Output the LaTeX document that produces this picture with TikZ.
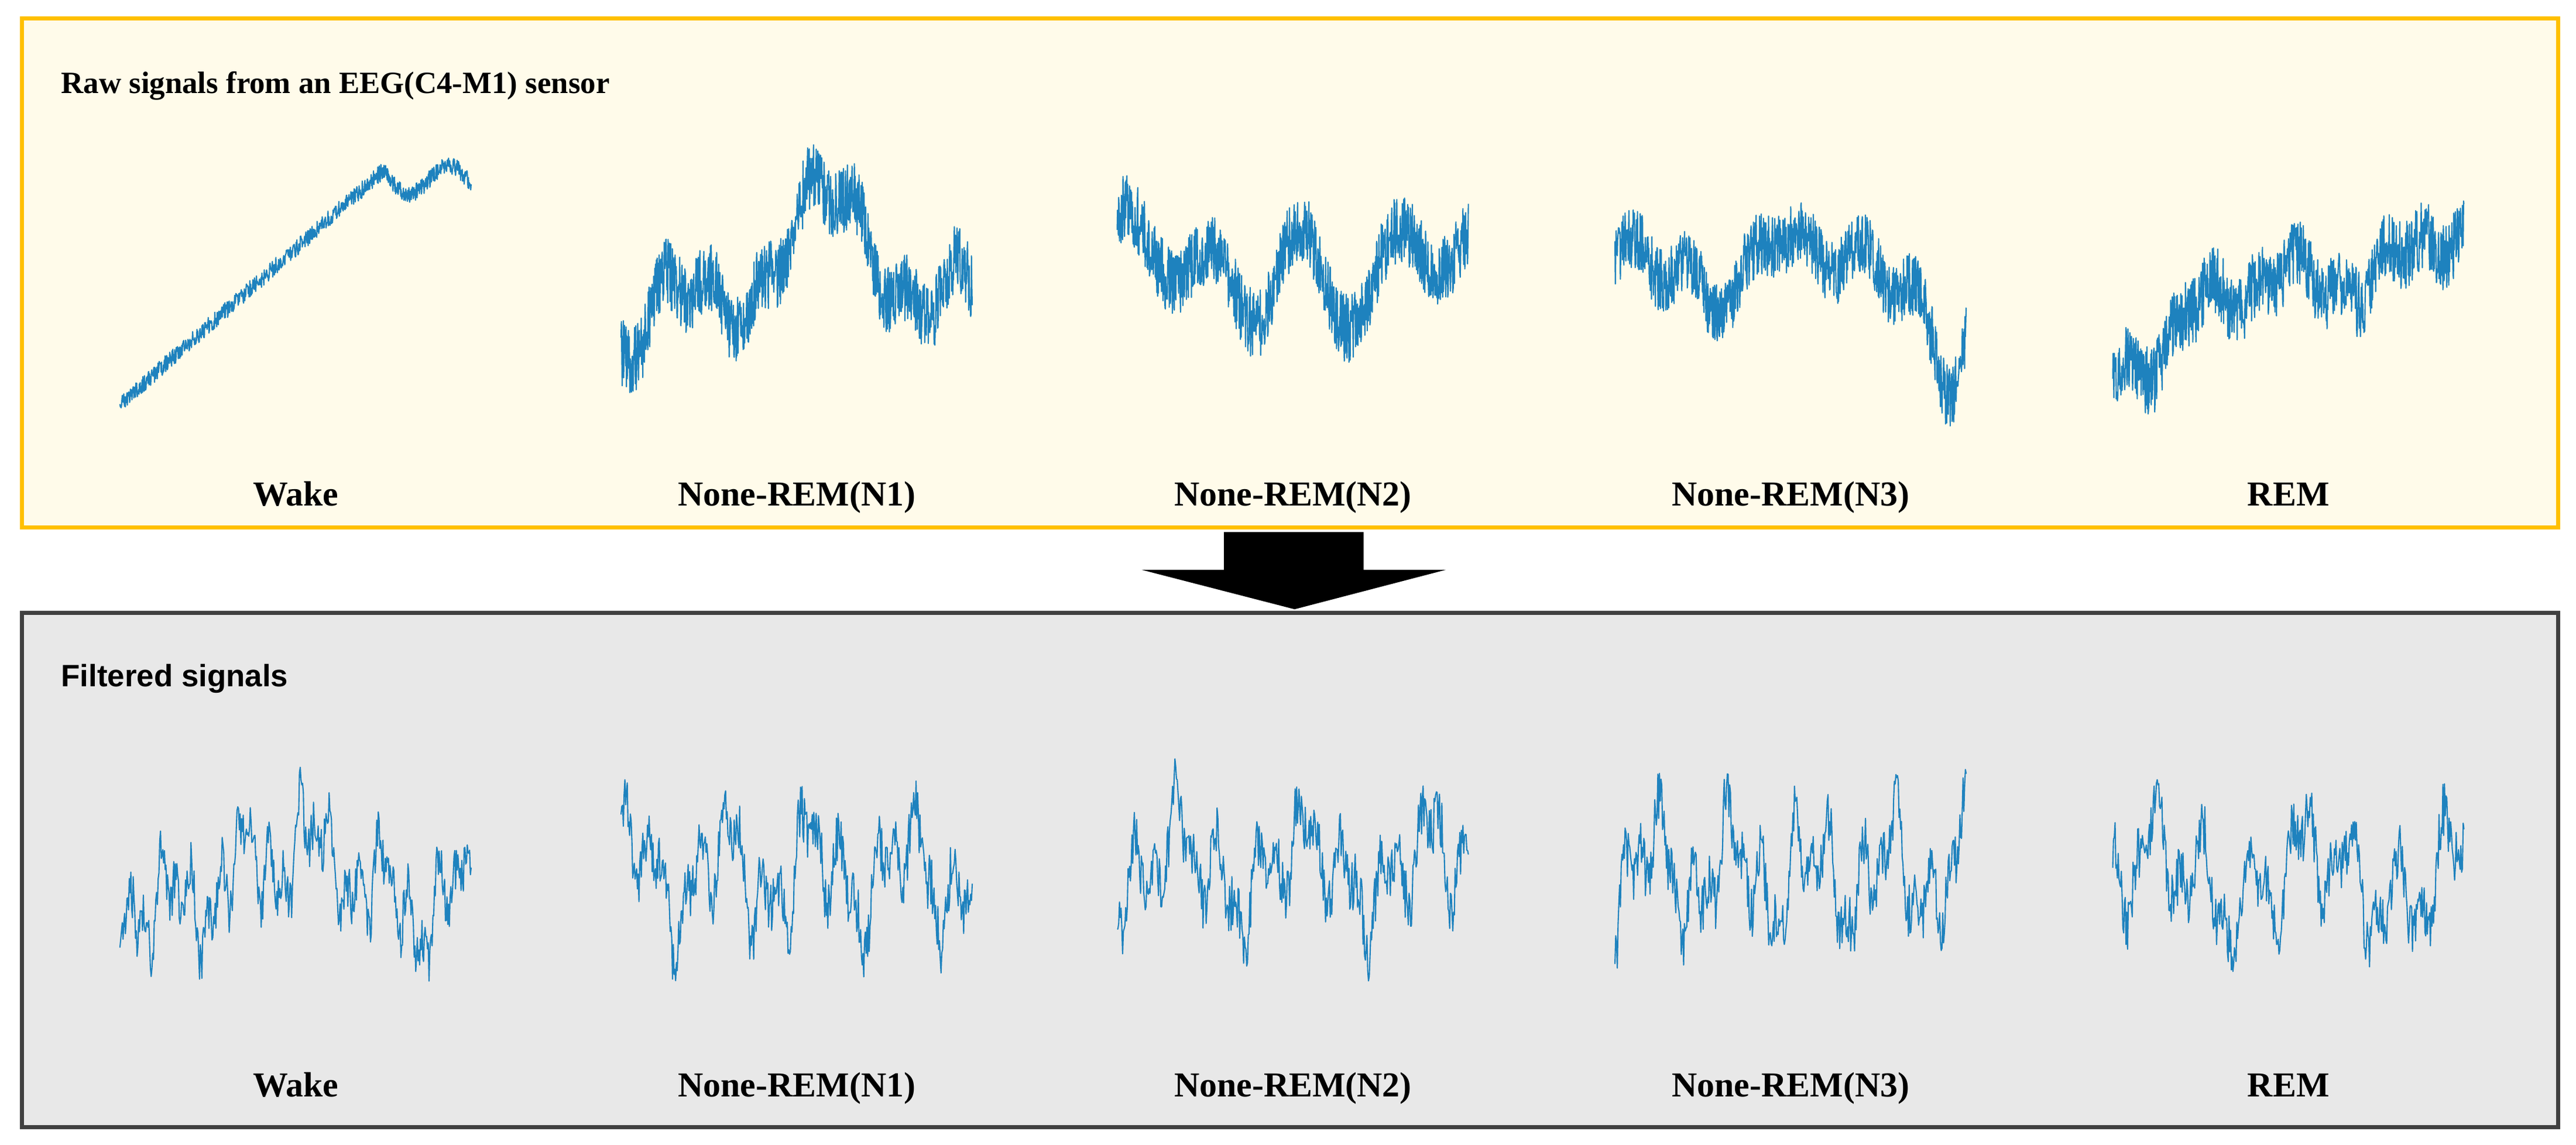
\documentclass[tikz,border=0pt]{standalone}
\usepackage{xcolor}
\usepackage{fontspec}
\setmainfont{Liberation Serif}
\newfontfamily\sansf{Liberation Sans}
\definecolor{boxorange}{RGB}{255,192,0}
\definecolor{boxyellow}{RGB}{255,251,234}
\definecolor{boxgray}{RGB}{64,64,64}
\definecolor{fillgray}{RGB}{232,232,232}
\definecolor{sigblue}{RGB}{30,130,190}

% one signal trace: centre x, centre y, seed, shape, noise, samples
\newcommand{\sigtrace}[6]{%
  \pgfmathsetseed{#3}
  \draw[sig] plot[domain=-1:1, samples=#6] ({#1+107*\x},{#2-75*(#4)-75*#5*rand});
}

\tikzset{
  sig/.style={draw=sigblue, line width=0.6pt, line join=round},
  stage/.style={font=\fontsize{17}{19}\selectfont\bfseries, anchor=base},
  title/.style={anchor=base west, inner sep=0pt},
}

\begin{document}
\begin{tikzpicture}[x=0.028cm, y=-0.028cm]
    \useasboundingbox (0,0) rectangle (1568,697);
    % boxes
    \node[draw=boxorange, fill=boxyellow, line width=2pt, minimum width=1544*0.028cm, minimum height=310*0.028cm, anchor=north west, inner sep=0pt] (raw) at (12,10) {};
    \node[draw=boxgray, fill=fillgray, line width=2pt, minimum width=1544*0.028cm, minimum height=313*0.028cm, anchor=north west, inner sep=0pt] (filt) at (12,372) {};
    \node[title, font=\fontsize{15}{17}\selectfont\bfseries] (rawtitle) at (37,57) {Raw signals from an EEG(C4-M1) sensor};
    \node[title, font=\sansf\fontsize{15}{17}\selectfont\bfseries] (filttitle) at (37,418) {Filtered signals};
    % arrow
    \fill (745,324) -- (830,324) -- (830,347) -- (880,347) -- (788,371) -- (695,347) -- (745,347) -- cycle;
    % raw signals
    \sigtrace{180}{175}{11}{ifthenelse(\x<0.5, -0.95+1.9*(\x+1)/1.5, 0.95-0.3*(\x-0.5)-0.15*sin(700*(\x-0.5)))}{0.07}{900}
    \sigtrace{485}{172}{12}{0.45*sin(160*\x+60)+0.35*sin(420*\x+20)+0.15*sin(1300*\x)}{0.28}{900}
    \sigtrace{787}{172}{13}{-0.35*cos(200*\x)+0.6*exp(-30*(\x)^2)+0.25*sin(700*\x+40)}{0.28}{900}
    \sigtrace{1090}{170}{14}{0.2*sin(300*\x)+0.5*exp(-40*(\x+0.1)^2)-0.6*exp(-60*(\x-0.9)^2)+0.15*sin(1100*\x)}{0.26}{900}
    \sigtrace{1393}{172}{15}{0.6*\x^3-0.4*exp(-30*(\x+0.7)^2)+0.15*sin(600*\x+70)+0.1*sin(1500*\x)}{0.28}{900}
    % filtered signals
    \sigtrace{180}{535}{21}{0.25*sin(250*\x+90)+0.25*sin(900*\x)+0.2*sin(2300*\x+30)+0.2*sin(4100*\x)}{0.2}{450}
    \sigtrace{485}{532}{22}{0.3*sin(700*\x+20)+0.25*sin(1700*\x)+0.2*sin(3300*\x+50)}{0.22}{450}
    \sigtrace{787}{530}{23}{0.25*sin(500*\x+60)+0.25*sin(1500*\x)+0.2*sin(3100*\x+10)}{0.22}{450}
    \sigtrace{1090}{532}{24}{0.3*sin(800*\x)+0.25*sin(1900*\x+40)+0.2*sin(3700*\x)}{0.22}{450}
    \sigtrace{1393}{535}{25}{0.25*sin(400*\x+30)+0.3*sin(1300*\x)+0.2*sin(2900*\x+70)}{0.22}{450}
    % stage labels
    \foreach \cx/\lab [count=\i] in {180/Wake, 485/None-REM(N1), 787/None-REM(N2), 1090/None-REM(N3), 1393/REM} {
        \node[stage] (rawlab\i) at (\cx,308) {\lab};
        \node[stage] (filtlab\i) at (\cx,668) {\lab};
    }
\end{tikzpicture}
\end{document}
